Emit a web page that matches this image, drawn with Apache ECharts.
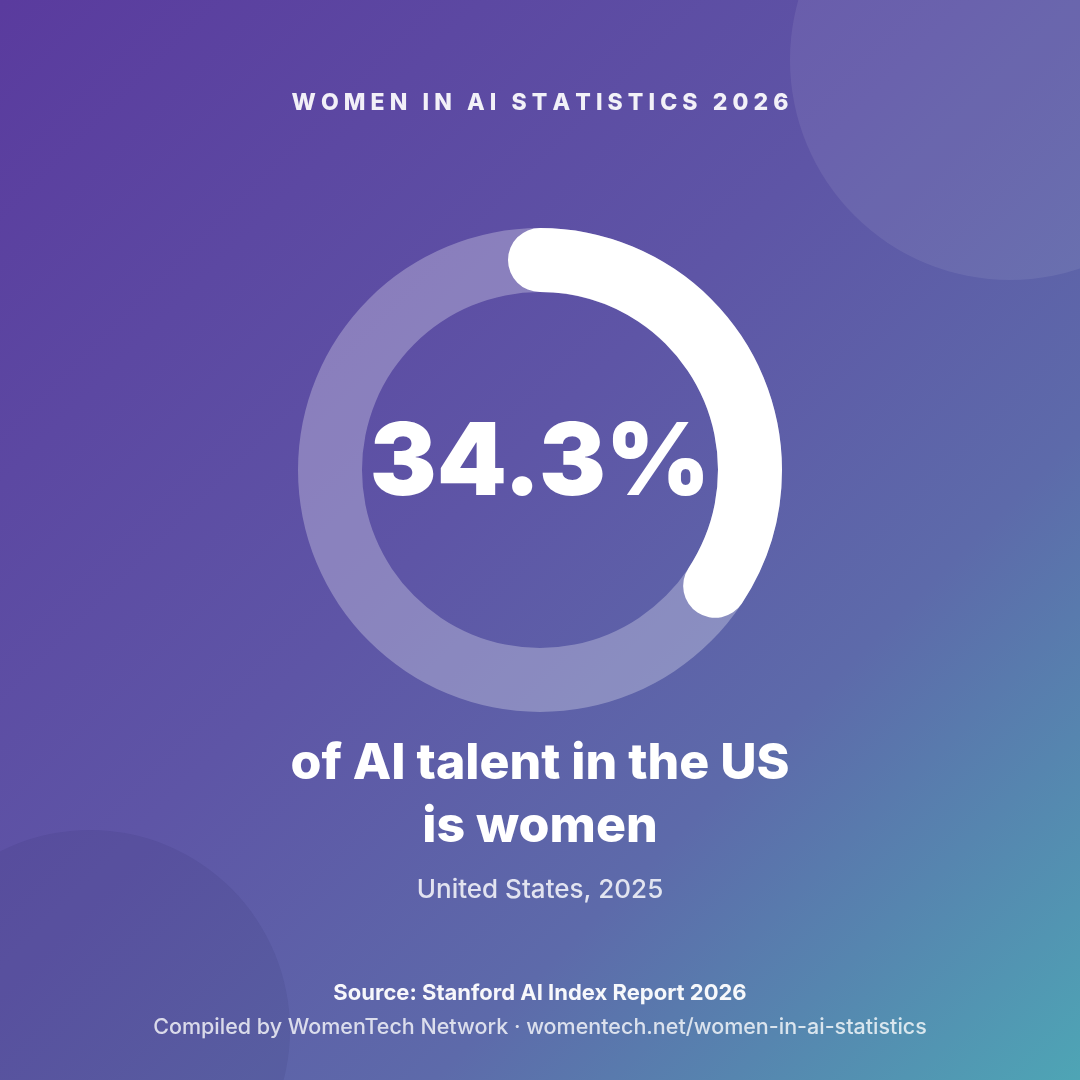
<!DOCTYPE html>
<html><head><meta charset="utf-8">
<script src="https://cdn.jsdelivr.net/npm/echarts@6/dist/echarts.min.js"></script>
<style>html,body{margin:0;padding:0;background:#5d55a6}#c{width:1080px;height:1080px}</style>
</head><body><div id="c"></div>
<script>
const titleText = 'WOMEN IN AI STATISTICS 2026';
const statValue = 34.3;
const statMax = 100;
const headline = ['of AI talent in the US', 'is women'];
const subtitle = 'United States, 2025';
const sourceText = 'Source: Stanford AI Index Report 2026';
const creditText = 'Compiled by WomenTech Network \u00b7 womentech.net/women-in-ai-statistics';

const FONT = 'Inter, "Open Sans", sans-serif';
const spaced = titleText.split('').join('\u2009\u200A');

const chart = echarts.init(document.getElementById('c'), null, {renderer:'canvas'});
chart.setOption({
  animation:false,
  backgroundColor:{type:'linear',x:0,y:0,x2:1,y2:1,colorStops:[
    {offset:0,color:'#5a3b9e'},{offset:0.45,color:'#5e55a6'},{offset:0.7,color:'#5d6aaa'},{offset:1,color:'#4ea5b5'}]},
  graphic:[
    {type:'circle',z:-1,shape:{cx:1010,cy:60,r:220},style:{fill:'rgba(255,255,255,0.08)'}},
    {type:'circle',z:-1,shape:{cx:90,cy:1030,r:200},style:{fill:'rgba(20,10,60,0.07)'}},
    {type:'text',x:540,y:103,style:{text:spaced,fill:'rgba(255,255,255,0.92)',font:'800 23px '+FONT,align:'center',verticalAlign:'middle'}},
    {type:'text',x:540,y:764,style:{text:headline[0],fill:'#fff',font:'800 50px '+FONT,align:'center',verticalAlign:'middle'}},
    {type:'text',x:540,y:827,style:{text:headline[1],fill:'#fff',font:'800 50px '+FONT,align:'center',verticalAlign:'middle'}},
    {type:'text',x:540,y:890,style:{text:subtitle,fill:'rgba(255,255,255,0.82)',font:'500 26px '+FONT,align:'center',verticalAlign:'middle'}},
    {type:'text',x:540,y:993,style:{text:sourceText,fill:'rgba(255,255,255,0.95)',font:'700 22px '+FONT,align:'center',verticalAlign:'middle'}},
    {type:'text',x:540,y:1028,style:{text:creditText,fill:'rgba(255,255,255,0.78)',font:'500 21.5px '+FONT,align:'center',verticalAlign:'middle'}}
  ],
  series:[{
    type:'gauge',center:[540,470],radius:242,startAngle:90,endAngle:-270,min:0,max:statMax,
    progress:{show:true,roundCap:true,width:64,itemStyle:{color:'#ffffff'}},
    axisLine:{roundCap:false,lineStyle:{width:64,color:[[1,'rgba(255,255,255,0.28)']]}},
    pointer:{show:false},axisTick:{show:false},splitLine:{show:false},axisLabel:{show:false},
    title:{show:false},
    detail:{show:true,offsetCenter:[0,-5],formatter:'{value}%',color:'#fff',fontFamily:FONT,fontWeight:900,fontSize:100},
    data:[{value:statValue}]
  }]
});
</script></body></html>
